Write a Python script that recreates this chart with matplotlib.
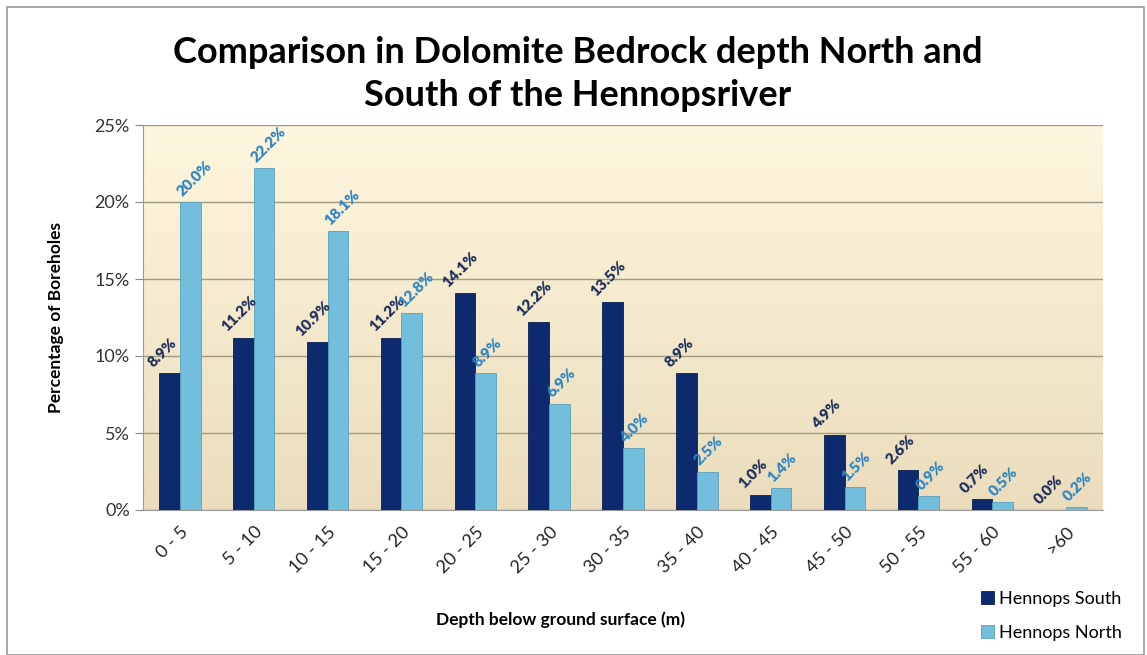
import matplotlib.pyplot as plt
import numpy as np
from matplotlib.patches import Rectangle

categories = ["0 - 5", "5 - 10", "10 - 15", "15 - 20", "20 - 25", "25 - 30", "30 - 35",
              "35 - 40", "40 - 45", "45 - 50", "50 - 55", "55 - 60", ">60"]
south = [8.9, 11.2, 10.9, 11.2, 14.1, 12.2, 13.5, 8.9, 1.0, 4.9, 2.6, 0.7, 0.0]
north = [20.0, 22.2, 18.1, 12.8, 8.9, 6.9, 4.0, 2.5, 1.4, 1.5, 0.9, 0.5, 0.2]

plt.rcParams['font.family'] = ['Lato', 'DejaVu Sans']

fig = plt.figure(figsize=(11.47, 6.55), dpi=100)
ax = fig.add_axes([143 / 1147, 1 - 510 / 655, 960 / 1147, 385 / 655])

# gradient background
grad = np.linspace(0, 1, 256).reshape(-1, 1)
top = np.array([0.995, 0.965, 0.87])
bot = np.array([0.92, 0.865, 0.74])
img = top * (1 - grad[..., None]) + bot * grad[..., None]
ax.imshow(img, extent=[-0.5, len(categories) - 0.5, 0, 25], aspect='auto', zorder=0,
          origin='upper')

x = np.arange(len(categories))
w = 0.28
dark = "#0d2a6e"
light = "#72bedc"
ax.bar(x - w / 2, south, w, color=dark, edgecolor="#0a1f50", linewidth=0.6,
       label="Hennops South", zorder=3)
ax.bar(x + w / 2, north, w, color=light, edgecolor="#5aa0b8", linewidth=0.6,
       label="Hennops North", zorder=3)

for i in range(len(categories)):
    ax.text(x[i] - w - 0.06, south[i] + 0.25, f"{south[i]:.1f}%", rotation=45,
            ha='left', va='bottom', fontsize=11, fontweight='heavy', color="#1f2f5a",
            rotation_mode='anchor', zorder=4)
    ax.text(x[i] + 0.06, north[i] + 0.25, f"{north[i]:.1f}%", rotation=45,
            ha='left', va='bottom', fontsize=11, fontweight='heavy', color="#2f86c2",
            rotation_mode='anchor', zorder=4)

ax.set_xlim(-0.5, len(categories) - 0.5)
ax.set_ylim(0, 25)
ax.set_yticks([0, 5, 10, 15, 20, 25])
ax.set_yticklabels([f"{v}%" for v in [0, 5, 10, 15, 20, 25]], fontsize=13, color="#333333")
ax.set_xticks(x)
ax.set_xticklabels(categories, rotation=45, ha='right', rotation_mode='anchor',
                   fontsize=13, color="#222222")
ax.tick_params(axis='x', length=0, pad=10)
ax.tick_params(axis='y', length=6, color="#888888", direction='out')
ax.grid(axis='y', color="#a09a80", linewidth=1.0, zorder=1)
for s in ['top', 'right']:
    ax.spines[s].set_visible(False)
ax.spines['left'].set_color("#999999")
ax.spines['bottom'].set_color("#999999")

ax.set_ylabel("Percentage of Boreholes", fontsize=12.5, fontweight='bold', labelpad=22)
fig.text(560 / 1147, 1 - 620 / 655, "Depth below ground surface (m)", ha='center',
         va='center', fontsize=12.5, fontweight='bold')
fig.text(578 / 1147, 1 - 74 / 655, "Comparison in Dolomite Bedrock depth North and\nSouth of the Hennopsriver",
         ha='center', va='center', fontsize=26, fontweight='bold', linespacing=1.4)

fig.legend(loc='center left', bbox_to_anchor=(965 / 1147, 1 - 616 / 655), frameon=False,
           fontsize=13, handlelength=0.7, handleheight=0.7, handletextpad=0.3,
           labelspacing=1.0)

fig.patches.append(Rectangle((7 / 1147, 0), 1 - 7 / 1147 - 3 / 1147, 1 - 7 / 655,
                             transform=fig.transFigure, fill=False, edgecolor="#999999",
                             linewidth=1.2))

fig.savefig("out.png", dpi=100)
